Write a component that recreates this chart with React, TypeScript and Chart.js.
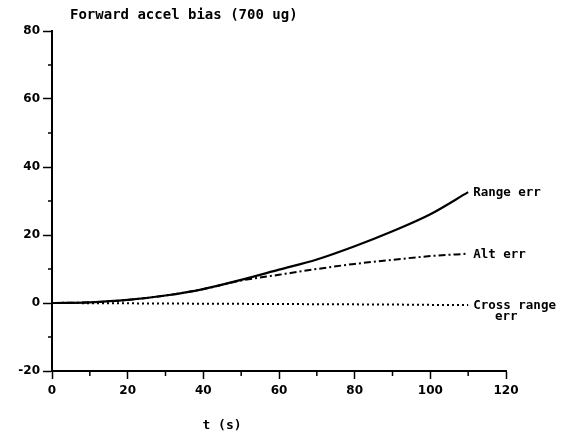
import React, { useEffect, useRef } from "react";
import { Chart, registerables } from "chart.js";

Chart.register(...registerables);

const timeS = [0, 10, 20, 30, 40, 50, 60, 70, 80, 90, 100, 110];
const rangeErr = [0, 0.2, 0.9, 2.2, 4.1, 6.8, 9.8, 12.8, 16.7, 21.1, 26.1, 32.6];
const altErr = [0, 0.2, 0.9, 2.2, 4.1, 6.6, 8.3, 10.0, 11.5, 12.7, 13.8, 14.5];
const crossRangeErr = [0, -0.05, -0.1, -0.15, -0.2, -0.25, -0.3, -0.35, -0.4, -0.45, -0.55, -0.6];

const titleText = "Forward accel bias (700 ug)";
const xAxisLabel = "t (s)";
const seriesLabels = ["Range err", "Alt err", "Cross range", "err"];
const yMinorTicks = [-10, 10, 30, 50, 70];
const xMinorTicks = [10, 30, 50, 70, 90, 110];

const MONO = "'DejaVu Sans Mono', 'Liberation Mono', monospace";
const SANS = "'DejaVu Sans', 'Liberation Sans', sans-serif";

const annotationPlugin = {
  id: "annotations",
  afterDraw(chart: any) {
    const ctx = chart.ctx;
    const xs = chart.scales.x;
    const ys = chart.scales.y;
    ctx.save();
    ctx.strokeStyle = "#000";
    ctx.lineWidth = 1.5;
    yMinorTicks.forEach((v) => {
      const py = ys.getPixelForValue(v);
      ctx.beginPath();
      ctx.moveTo(xs.left - 4, py);
      ctx.lineTo(xs.left, py);
      ctx.stroke();
    });
    xMinorTicks.forEach((v) => {
      const px = xs.getPixelForValue(v);
      ctx.beginPath();
      ctx.moveTo(px, ys.bottom);
      ctx.lineTo(px, ys.bottom + 5);
      ctx.stroke();
    });
    ctx.fillStyle = "#000";
    ctx.font = `bold 14px ${MONO}`;
    ctx.textBaseline = "middle";
    ctx.textAlign = "left";
    ctx.fillText(titleText, 70, 15);
    ctx.font = `bold 13px ${MONO}`;
    ctx.textAlign = "center";
    ctx.fillText(xAxisLabel, 222, 426);
    ctx.font = `bold 12.5px ${MONO}`;
    ctx.textAlign = "left";
    const lastX = xs.getPixelForValue(timeS[timeS.length - 1]);
    const n = timeS.length - 1;
    ctx.fillText(seriesLabels[0], lastX + 5, ys.getPixelForValue(rangeErr[n]) + 1);
    ctx.fillText(seriesLabels[1], lastX + 5, ys.getPixelForValue(altErr[n]) + 1);
    ctx.fillText(seriesLabels[2], lastX + 5, ys.getPixelForValue(crossRangeErr[n]) + 1);
    ctx.textAlign = "center";
    ctx.fillText(seriesLabels[3], lastX + 38, ys.getPixelForValue(crossRangeErr[n]) + 12);
    ctx.restore();
  },
};

export default function App() {
  const ref = useRef<HTMLCanvasElement | null>(null);
  useEffect(() => {
    const prevMargin = document.body.style.margin;
    document.body.style.margin = "0";
    const canvas = ref.current!;
    const mk = (vals: number[]) => timeS.map((t, i) => ({ x: t, y: vals[i] }));
    const chart = new Chart(canvas, {
      type: "line",
      data: {
        datasets: [
          {
            label: "Range err",
            data: mk(rangeErr),
            borderColor: "#000",
            borderWidth: 2.2,
            pointRadius: 0,
            cubicInterpolationMode: "monotone",
          },
          {
            label: "Alt err",
            data: mk(altErr),
            borderColor: "#000",
            borderWidth: 2,
            borderDash: [7, 3, 2, 3],
            pointRadius: 0,
            cubicInterpolationMode: "monotone",
          },
          {
            label: "Cross range err",
            data: mk(crossRangeErr),
            borderColor: "#000",
            borderWidth: 2,
            borderDash: [2, 3],
            pointRadius: 0,
            cubicInterpolationMode: "monotone",
          },
        ],
      },
      options: {
        animation: false,
        responsive: false,
        maintainAspectRatio: false,
        layout: { padding: { top: 31, right: 60, left: 0, bottom: 0 } },
        plugins: { legend: { display: false }, tooltip: { enabled: false } },
        scales: {
          x: {
            type: "linear",
            min: 0,
            max: 120,
            afterFit(scale: any) {
              scale.height = 69;
            },
            ticks: {
              stepSize: 20,
              color: "#000",
              font: { family: SANS, size: 12, weight: "bold" },
              padding: 5,
              maxRotation: 0,
            },
            grid: {
              display: true,
              drawOnChartArea: false,
              drawTicks: true,
              tickLength: 8,
              tickColor: "#000",
              tickWidth: 1.5,
            },
            border: { display: true, color: "#000", width: 2 },
          },
          y: {
            type: "linear",
            min: -20,
            max: 80,
            afterFit(scale: any) {
              scale.width = 52;
            },
            ticks: {
              stepSize: 20,
              color: "#000",
              font: { family: SANS, size: 12, weight: "bold" },
              padding: 3,
            },
            grid: {
              display: true,
              drawOnChartArea: false,
              drawTicks: true,
              tickLength: 9,
              tickColor: "#000",
              tickWidth: 1.5,
            },
            border: { display: true, color: "#000", width: 2 },
          },
        },
      },
      plugins: [annotationPlugin],
    } as any);
    return () => {
      chart.destroy();
      document.body.style.margin = prevMargin;
    };
  }, []);
  return (
    <div style={{ position: "absolute", left: 0, top: 0, width: 566, height: 440, background: "#fff" }}>
      <canvas ref={ref} width={566} height={440} style={{ width: 566, height: 440, display: "block" }} />
    </div>
  );
}
